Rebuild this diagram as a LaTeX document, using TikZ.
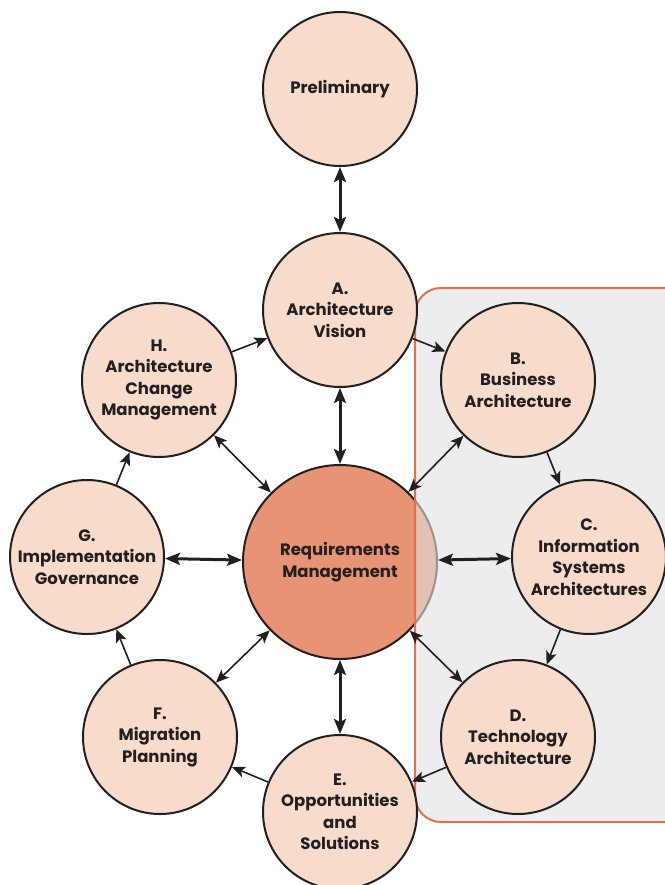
\documentclass[tikz,border=0pt]{standalone}
\usepackage{fontspec}
\setmainfont{Poppins}
\usepackage{xcolor}
\usetikzlibrary{arrows.meta}
\definecolor{phasefond}{RGB}{247,219,203}
\definecolor{reqfond}{RGB}{230,148,116}
\definecolor{zonegris}{RGB}{225,225,225}
\definecolor{zonebord}{RGB}{224,112,80}
\definecolor{traitnoir}{RGB}{35,31,32}

\begin{document}
\begin{tikzpicture}[x=1pt, y=-1pt,
  phase/.style={circle, draw=traitnoir, line width=2pt, fill=phasefond,
                minimum size=154pt, inner sep=0pt, align=center, text=traitnoir,
                font=\fontsize{16.5}{21.5}\selectfont\bfseries},
  suite/.style={-{Stealth[length=13pt, width=11pt, inset=3pt]}, draw=traitnoir, line width=1.6pt},
  lien/.style={{Stealth[length=13pt, width=11pt, inset=3pt]}-{Stealth[length=13pt, width=11pt, inset=3pt]},
               draw=traitnoir, line width=1.6pt},
  lienfort/.style={{Stealth[length=15pt, width=12pt, inset=3pt]}-{Stealth[length=15pt, width=12pt, inset=3pt]},
                   draw=traitnoir, line width=3pt}]
  \useasboundingbox (0,0) rectangle (664,885);

  % centre first, the grey zone lies over it
  \node[phase, fill=reqfond, minimum size=194pt] (req) at (340,562) {Requirements\\Management};
  \fill[zonegris, fill opacity=0.6, rounded corners=26pt] (415,288) rectangle (700,822);
  \draw[zonebord, line width=2pt, rounded corners=26pt] (415,288) rectangle (700,822);

  \node[phase] (prelim) at (340,89) {Preliminary};
  \node[phase] (vision) at (340,310) {A.\\Architecture\\Vision};
  \node[phase] (busi) at (518,380) {B.\\Business\\Architecture};
  \node[phase] (infsys) at (589,557) {C.\\Information\\Systems\\Architectures};
  \node[phase] (techno) at (518,737) {D.\\Technology\\Architecture};
  \node[phase] (oppsol) at (340,812) {E.\\Opportunities\\and\\Solutions};
  \node[phase] (migr) at (160,737) {F.\\Migration\\Planning};
  \node[phase] (impl) at (87,557) {G.\\Implementation\\Governance};
  \node[phase] (chg) at (159,380) {H.\\Architecture\\Change\\Management};

  % the cycle
  \draw[suite] (vision) -- (busi);
  \draw[suite] (busi) -- (infsys);
  \draw[suite] (infsys) -- (techno);
  \draw[suite] (techno) -- (oppsol);
  \draw[suite] (oppsol) -- (migr);
  \draw[suite] (migr) -- (impl);
  \draw[suite] (impl) -- (chg);
  \draw[suite] (chg) -- (vision);

  % links to requirements
  \draw[lienfort] (prelim) -- (vision);
  \draw[lienfort] (vision) -- (req);
  \draw[lienfort] (req) -- (oppsol);
  \draw[lienfort] (impl) -- (req);
  \draw[lienfort] (req) -- (infsys);
  \draw[lien] (req) -- (busi);
  \draw[lien] (req) -- (techno);
  \draw[lien] (req) -- (migr);
  \draw[lien] (req) -- (chg);
\end{tikzpicture}
\end{document}
